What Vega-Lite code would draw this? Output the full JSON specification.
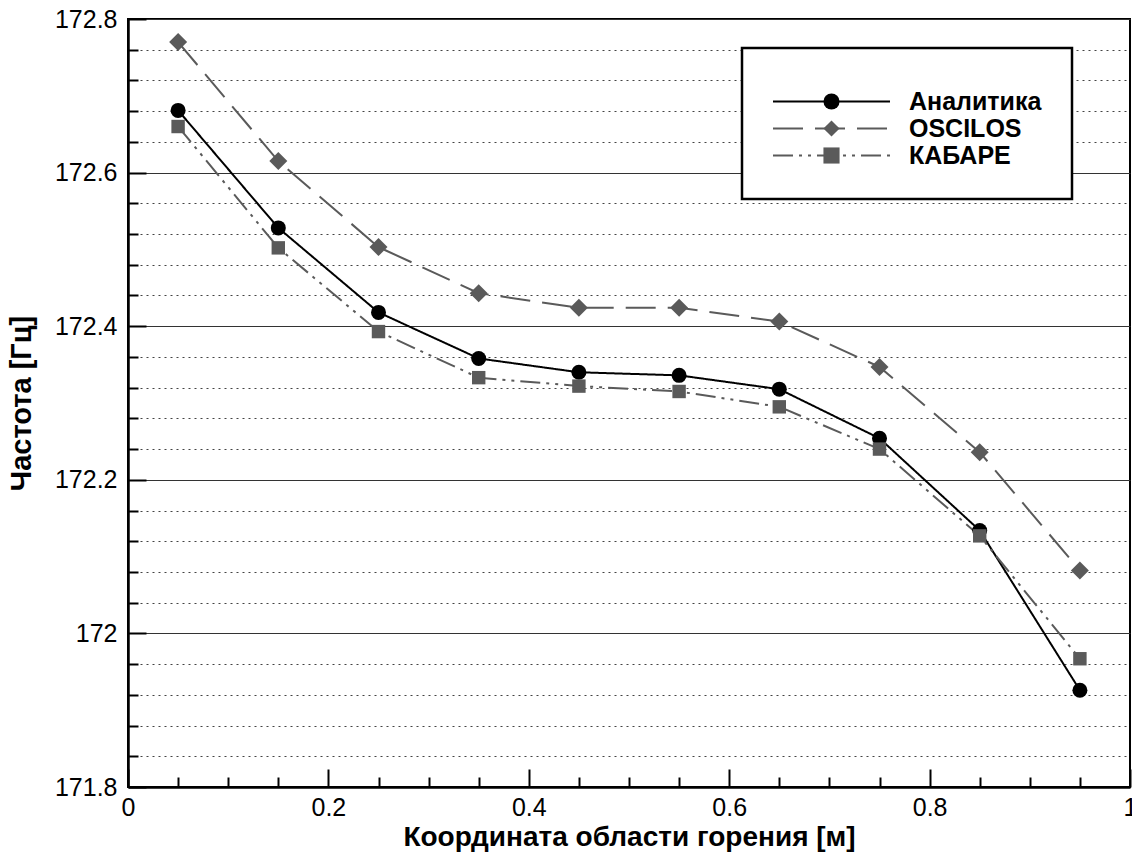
{
  "$schema": "https://vega.github.io/schema/vega-lite/v6.json",
  "width": 1002,
  "height": 768,
  "autosize": {"type": "none"},
  "padding": {"left": 128, "top": 19, "right": 2, "bottom": 65},
  "background": "white",
  "config": {
    "view": {"stroke": "black", "strokeWidth": 2},
    "font": "Liberation Sans",
    "axis": {"labelFont": "Liberation Sans", "titleFont": "Liberation Sans", "labelColor": "black", "titleColor": "black", "tickColor": "black", "domainColor": "black"},
    "legend": {
      "orient": "none", "legendX": 614, "legendY": 29, "padding": 30,
      "labelFont": "Liberation Sans", "labelFontSize": 25, "labelFontWeight": "bold",
      "rowPadding": 1, "labelLimit": 300, "titleFontSize": 9, "titlePadding": 2,
      "strokeWidth": 2.5
    }
  },
  "data": {"values": [
    {"x": 0.05, "f": 172.681, "series": "Аналитика"},
    {"x": 0.15, "f": 172.528, "series": "Аналитика"},
    {"x": 0.25, "f": 172.418, "series": "Аналитика"},
    {"x": 0.35, "f": 172.358, "series": "Аналитика"},
    {"x": 0.45, "f": 172.340, "series": "Аналитика"},
    {"x": 0.55, "f": 172.336, "series": "Аналитика"},
    {"x": 0.65, "f": 172.318, "series": "Аналитика"},
    {"x": 0.75, "f": 172.254, "series": "Аналитика"},
    {"x": 0.85, "f": 172.134, "series": "Аналитика"},
    {"x": 0.95, "f": 171.926, "series": "Аналитика"},
    {"x": 0.05, "f": 172.770, "series": "OSCILOS"},
    {"x": 0.15, "f": 172.615, "series": "OSCILOS"},
    {"x": 0.25, "f": 172.503, "series": "OSCILOS"},
    {"x": 0.35, "f": 172.443, "series": "OSCILOS"},
    {"x": 0.45, "f": 172.424, "series": "OSCILOS"},
    {"x": 0.55, "f": 172.424, "series": "OSCILOS"},
    {"x": 0.65, "f": 172.406, "series": "OSCILOS"},
    {"x": 0.75, "f": 172.347, "series": "OSCILOS"},
    {"x": 0.85, "f": 172.236, "series": "OSCILOS"},
    {"x": 0.95, "f": 172.082, "series": "OSCILOS"},
    {"x": 0.05, "f": 172.660, "series": "КАБАРЕ"},
    {"x": 0.15, "f": 172.502, "series": "КАБАРЕ"},
    {"x": 0.25, "f": 172.393, "series": "КАБАРЕ"},
    {"x": 0.35, "f": 172.333, "series": "КАБАРЕ"},
    {"x": 0.45, "f": 172.322, "series": "КАБАРЕ"},
    {"x": 0.55, "f": 172.315, "series": "КАБАРЕ"},
    {"x": 0.65, "f": 172.295, "series": "КАБАРЕ"},
    {"x": 0.75, "f": 172.240, "series": "КАБАРЕ"},
    {"x": 0.85, "f": 172.127, "series": "КАБАРЕ"},
    {"x": 0.95, "f": 171.967, "series": "КАБАРЕ"}
  ]},
  "resolve": {"axis": {"x": "independent", "y": "independent"}},
  "layer": [
    {
      "mark": {"type": "line", "strokeWidth": 2},
      "encoding": {
        "x": {"field": "x", "type": "quantitative", "scale": {"domain": [0, 1], "nice": false, "zero": false},
          "axis": {"values": [0.05, 0.1, 0.15, 0.25, 0.3, 0.35, 0.45, 0.5, 0.55, 0.65, 0.7, 0.75, 0.85, 0.9, 0.95], "orient": "bottom", "grid": false, "tickSize": -10, "tickWidth": 2, "labels": false, "domain": false, "title": null}},
        "y": {"field": "f", "type": "quantitative", "scale": {"domain": [171.8, 172.8], "nice": false, "zero": false},
          "axis": {"values": [171.84, 171.88, 171.92, 171.96, 172.04, 172.08, 172.12, 172.16, 172.24, 172.28, 172.32, 172.36, 172.44, 172.48, 172.52, 172.56, 172.64, 172.68, 172.72, 172.76], "orient": "left", "grid": true, "gridDash": [2, 4], "gridColor": "#444444", "gridWidth": 1, "tickSize": -10, "tickWidth": 2, "labels": false, "domain": false, "title": null}},
        "stroke": {"field": "series", "type": "nominal",
          "scale": {"domain": ["Аналитика", "OSCILOS", "КАБАРЕ"], "range": ["#000000", "#5a5a5a", "#5a5a5a"]},
          "legend": {
            "title": " ", "symbolType": "M-7.8,0H7.8", "symbolSize": 225, "symbolStrokeWidth": 2,
            "symbolOffset": 47, "labelOffset": 65, "labelColor": "black",
            "strokeColor": "black", "fillColor": "white", "zindex": 1
          }},
        "strokeDash": {"field": "series", "type": "nominal",
          "scale": {"domain": ["Аналитика", "OSCILOS", "КАБАРЕ"], "range": [[1, 0], [30, 12], [20, 6, 3, 6, 3, 6]]},
          "legend": {"title": " "}}
      }
    },
    {
      "mark": {"type": "point", "filled": true, "opacity": 1},
      "encoding": {
        "x": {"field": "x", "type": "quantitative", "scale": {"domain": [0, 1], "nice": false, "zero": false},
          "axis": {"values": [0, 0.2, 0.4, 0.6, 0.8, 1], "orient": "bottom", "grid": false, "tickSize": -18, "tickWidth": 2, "domain": true, "domainWidth": 2.5, "labelFontSize": 25, "labelPadding": 26, "labelFlush": false, "labelOverlap": false, "format": "~g", "title": "Координата области горения [м]", "titleFontSize": 28, "titleFontWeight": "bold", "titlePadding": 3}},
        "y": {"field": "f", "type": "quantitative", "scale": {"domain": [171.8, 172.8], "nice": false, "zero": false},
          "axis": {"values": [171.8, 172, 172.2, 172.4, 172.6, 172.8], "orient": "left", "grid": true, "gridColor": "#333333", "gridWidth": 1.2, "tickSize": -18, "tickWidth": 2, "domain": true, "domainWidth": 2.5, "labelFontSize": 25, "labelPadding": 29, "labelFlush": false, "labelOverlap": false, "format": "~g", "title": "Частота [Гц]", "titleFontSize": 29, "titleFontWeight": "bold", "titlePadding": 18}},
        "fill": {"field": "series", "type": "nominal",
          "scale": {"domain": ["Аналитика", "OSCILOS", "КАБАРЕ", "_"], "range": ["#000000", "#5a5a5a", "#5a5a5a", "#5a5a5a"]},
          "legend": {
            "title": " ", "values": ["Аналитика", "OSCILOS", "КАБАРЕ"], "symbolSize": 260, "symbolStrokeWidth": 0,
            "symbolStrokeColor": "transparent", "symbolOffset": 47, "labelOffset": 115, "labelColor": "transparent",
            "labelExpr": "''",
            "strokeColor": null, "fillColor": null, "zindex": 2
          }},
        "shape": {"field": "series", "type": "nominal",
          "scale": {"domain": ["Аналитика", "OSCILOS", "КАБАРЕ", "_"], "range": ["circle", "diamond", "square", "circle"]},
          "legend": {"title": " ", "values": ["Аналитика", "OSCILOS", "КАБАРЕ"], "labelExpr": "''"}},
        "size": {"condition": [{"test": "datum.series === 'OSCILOS'", "value": 324}, {"test": "datum.series === 'КАБАРЕ'", "value": 180}], "value": 225}
      }
    }
  ]
}
